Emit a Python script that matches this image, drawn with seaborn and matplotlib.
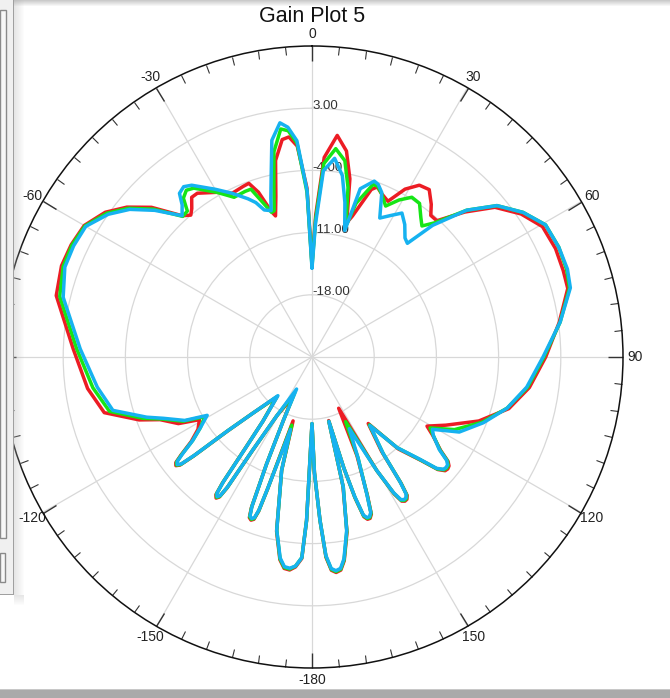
import numpy as np
import pandas as pd
import matplotlib
matplotlib.use('Agg')
import matplotlib.pyplot as plt
import seaborn as sns
from matplotlib.patches import Rectangle

# angle (deg, clockwise from top) and gain (dB) for the three traces
theta_deg = [0, 1.5, 3.5, 6.5, 9.5, 12, 14.5, 16, 19.5, 21, 23, 26, 29, 32, 35, 38, 40, 42.5,
             46.5, 50.7, 55.6, 60.5, 66, 71, 75, 82, 90, 98, 104.7, 111, 117, 121,
             123, 126, 127.5, 128.5, 129.5, 130.5, 131.8, 133.5, 136.8, 139.8,
             143.6, 144.8, 145.5, 146.3, 147.2, 148.1, 149, 150.3, 152.5,
             155.5, 158.2, 159.3, 160.2, 161.1, 162, 163, 164, 165.3,
             166.5, 168.7, 171, 172.3, 173.6, 174.8, 176, 177.2, 178.8, 180,
             181.9, 182.9, 184.5, 186, 187.5, 189, 191.5, 195, 196.5,
             198.6, 199.1, 199.7, 200.5, 201.3, 201.9, 203, 204.3, 205.7,
             210.9, 212.5, 213.0, 213.5, 214.2, 214.9, 215.4, 216.2, 217.4, 221.4,
             226.5, 228.8, 230.1, 230.7, 231.4, 232.2, 233.2, 235, 237.6, 240.9,
             243.5, 247.6, 250, 255, 262, 272, 283.5, 290, 295, 300, 305, 309, 313,
             317.4, 319.5, 321, 323, 325, 330, 334, 338, 340, 342, 344.4, 345.5,
             347.3, 349.5, 352.2, 354, 356, 358.3, 360]

gain_red = [-14.5, -9, -2.5, 0.1, -1.5, -4.5, -9.4, -8.5, -5.0, -4.5, -5.0, -5.5, -3.4, -2.2, -2.0, -3.2, -4.2, -4.2,
            -1.3, 1.6, 3.5, 4.8, 5.0, 4.9, 4.8, 3.1, 1.3, -0.3, -2.1, -4.9, -8.1, -9.9,
            -8.8, -7.1, -5.7, -5.3, -5.2, -5.3, -6.0, -8.1, -10.8, -15.2,
            -11.8, -7.6, -6.1, -5.75, -5.7, -5.9, -7.0, -10.3, -18.5,
            -12.8, -8.2, -6.1, -5.7, -5.7, -6.1, -8.4, -12, -17.6,
            -10.1, -4.9, -1.8, -0.8, -0.6, -0.9, -2.4, -6.6, -12, -17.5,
            -6.6, -2.3, -1.3, -0.9, -1.0, -1.9, -5.0, -11.8, -17.5,
            -9.3, -6.6, -5.6, -5.4, -5.6, -6.7, -11.9, -17.2, -20,
            -17.3, -12.4, -7.4, -6.1, -5.8, -6.1, -7.6, -12.4, -15.9, -19,
            -15.8, -12.3, -7.6, -5.8, -5.4, -5.6, -6.6, -8.4, -9.8, -10.5,
            -8.2, -6.5, -4.3, -0.8, 0.5, 1.9, 4.6, 5.0, 4.9, 4.6, 3.4, 1.8, -0.3,
            -3.4, -4.0, -3.5, -2.5, -2.5, -3.6, -4.5, -4.3, -4.2, -5.5, -8.0, -8.6,
            -6.5, -2.5, -0.3, -0.1, -1.2, -6.0, -14.5]

gain_green = [-14.8, -9.5, -3.2, -1.4, -2.6, -5.5, -9.8, -7.0, -4.4, -4.4, -5.0, -6.1, -4.8, -3.8, -3.9, -5.1, -5.75, -4.5,
              -1.0, 1.9, 3.8, 5.2, 5.4, 5.3, 5.0, 3.2, 1.1, -0.5, -2.3, -4.5, -7.0, -9.5,
              -8.7, -7.2, -5.8, -5.4, -5.35, -5.45, -6.1, -8.2, -11, -15,
              -11.5, -7.7, -6.2, -5.85, -5.8, -6.0, -7.1, -10.3, -16.8,
              -12.5, -8.3, -6.2, -5.8, -5.8, -6.2, -8.5, -12, -17.5,
              -9.9, -5.0, -1.9, -0.9, -0.7, -1.0, -2.5, -6.6, -12, -17.5,
              -6.6, -2.4, -1.4, -1.0, -1.1, -2.0, -5.1, -11.8, -17,
              -9.4, -6.7, -5.7, -5.5, -5.7, -6.8, -11.9, -17.2, -20.5,
              -17.3, -12.5, -7.5, -6.2, -5.9, -6.2, -7.7, -12.5, -15.9, -19,
              -15.8, -12.4, -7.7, -5.9, -5.5, -5.7, -6.7, -8.6, -10.1, -11.2,
              -8.8, -6.7, -4.8, -1.4, -0.1, 1.5, 4.2, 4.8, 4.8, 4.5, 3.2, 1.6, -0.6,
              -3.5, -3.4, -2.0, -1.5, -1.8, -3.6, -5.0, -4.9, -4.9, -6.5, -8.1, -8.0,
              -5.5, -1.5, 0.9, 0.6, -0.9, -6.5, -14.8]

gain_blue = [-15, -10, -4, -2.5, -4.3, -7.2, -10.3, -5.3, -4.0, -4.2, -4.9, -7.6, -6.8, -5.9, -6.8, -8.0, -8.3, -4.9,
             -1.0, 1.9, 3.8, 5.2, 5.4, 5.4, 5.1, 3.2, 1.0, -0.6, -2.3, -4.35, -6.4, -9.2,
             -8.7, -7.3, -5.9, -5.5, -5.45, -5.55, -6.2, -8.3, -11, -14.9,
             -11.5, -7.8, -6.3, -5.95, -5.9, -6.1, -7.2, -10.3, -15.9,
             -12.5, -8.4, -6.3, -5.9, -5.9, -6.3, -8.6, -12, -17.5,
             -9.9, -5.1, -2.0, -1.0, -0.8, -1.1, -2.6, -6.6, -12, -17.5,
             -6.6, -2.4, -1.4, -1.1, -1.2, -2.1, -5.1, -11.8, -16.5,
             -9.5, -6.8, -5.8, -5.6, -5.8, -6.9, -11.9, -17.2, -21,
             -17.3, -12.6, -7.6, -6.3, -6.0, -6.3, -7.8, -12.6, -15.9, -19.2,
             -15.8, -12.4, -7.8, -6.0, -5.6, -5.8, -6.8, -8.6, -10.1, -11.5,
             -9.0, -6.9, -5.2, -1.8, -0.6, 1.1, 3.8, 4.6, 4.6, 4.4, 3.0, 1.4, -0.8,
             -3.4, -2.5, -1.3, -1.0, -1.4, -3.2, -4.5, -5.8, -6.5, -7.6, -7.9, -6.5,
             -4.1, -0.2, 1.6, 1.0, -0.6, -6.25, -15]

r_ticks = [-18, -11, -4, 3]
angle_ticks = list(range(0, 360, 30))
# the -90 label sits under the window panel on the left, so it is not shown
angle_labels = ['0', '30', '60', '90', '120', '150', '-180', '-150', '-120', '', '-60', '-30']
curves = ['red', 'green', 'blue']
colors = {'red': '#ec1c24', 'green': '#16e516', 'blue': '#16b2f0'}

df = pd.DataFrame({
    'theta': np.deg2rad(theta_deg * 3),
    'gain': gain_red + gain_green + gain_blue,
    'curve': [c for c in curves for _ in theta_deg],
})

sns.set_style('white')
plt.rcParams['font.family'] = ['Liberation Sans', 'DejaVu Sans']

W, H = 670, 698
fig = plt.figure(figsize=(W / 100, H / 100), dpi=100)
cx, cy, R = 312, 357, 311
ax = fig.add_axes([(cx - R) / W, (H - cy - R) / H, 2 * R / W, 2 * R / H], projection='polar')

sns.lineplot(data=df, x='theta', y='gain', hue='curve', hue_order=curves, palette=colors,
             sort=False, estimator=None, linewidth=2.5, legend=False, ax=ax, zorder=4)

ax.set_theta_zero_location('N')
ax.set_theta_direction(-1)
ax.set_ylim(-25, 10)
ax.set_xlabel('')
ax.set_ylabel('')

ax.set_xticks(np.deg2rad(angle_ticks))
ax.set_xticklabels(angle_labels, fontsize=10, color='#222222')
ax.set_xticks(np.deg2rad(np.arange(0, 360, 5)), minor=True)
ax.tick_params(axis='x', which='both', bottom=False, top=True, direction='in')
ax.tick_params(axis='x', which='major', length=11, width=1, color='#333333', pad=1.5)
ax.tick_params(axis='x', which='minor', length=6, width=0.8, color='#333333')

ax.set_yticks(r_ticks)
ax.set_yticklabels([])
ax.grid(True, color='#d8d8d8', linewidth=0.9)
ax.spines['polar'].set_color('#111111')
ax.spines['polar'].set_linewidth(1.1)
for r in r_ticks:
    ax.text(0, r + 0.3, f'{r:.2f}', ha='left', va='center', fontsize=9.5, color='#333333', zorder=2)

fig.text(cx / W, 1 - 17 / H, 'Gain Plot 5', ha='center', va='center', fontsize=15.5, color='#111111')


def box(x0, y0, x1, y1, **kw):
    fig.add_artist(Rectangle((x0 / W, 1 - y1 / H), (x1 - x0) / W, (y1 - y0) / H,
                             transform=fig.transFigure, **kw))


# window chrome around the plot
for i in range(10):
    box(14 + i, 0, 15 + i, 595, facecolor='#b8b8b8', edgecolor='none', alpha=0.35 * (1 - i / 10), zorder=9)
    box(14, 595 + i, 24, 596 + i, facecolor='#b8b8b8', edgecolor='none', alpha=0.35 * (1 - i / 10), zorder=9)
for i in range(6):
    box(14, i, W, i + 1, facecolor='#a8a8a8', edgecolor='none', alpha=0.6 * (1 - i / 6), zorder=9)
box(0, 0, 14, 595, facecolor='#f0f0f0', edgecolor='none', zorder=10)
box(0, 10, 6, 538, facecolor='#f7f7f7', edgecolor='#8a8a8a', linewidth=1, zorder=11)
box(0, 553, 5, 582, facecolor='#f7f7f7', edgecolor='#8a8a8a', linewidth=1, zorder=11)
box(13, 0, 14, 595, facecolor='#a0a0a0', edgecolor='none', zorder=11)
box(0, 594, 14, 595, facecolor='#a0a0a0', edgecolor='none', zorder=11)
box(0, 689, W, H, facecolor='#aaaaaa', edgecolor='none', zorder=10)
box(0, 689, W, 690, facecolor='#c8c8c8', edgecolor='none', zorder=11)

fig.savefig('out.png', dpi=100)
